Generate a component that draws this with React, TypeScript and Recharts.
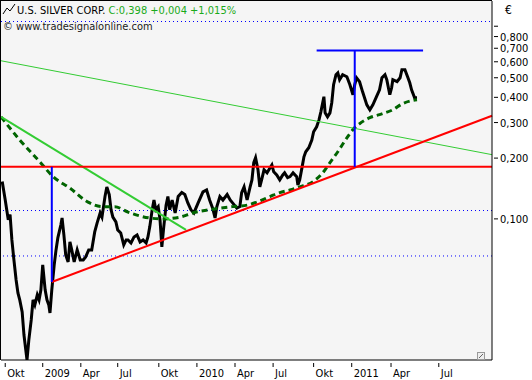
import React from "react"
import { LineChart, Line, XAxis, YAxis, CartesianGrid, ReferenceLine } from "recharts"

const font = "Tahoma, 'DejaVu Sans Condensed', 'Liberation Sans Narrow', sans-serif"

// trading-day index since late Sept 2008 and close in EUR
const days = [
  2, 7, 12, 15, 18, 21, 25, 28, 31, 35, 38, 41, 43, 46, 50, 53, 56, 60, 63, 66, 69, 73, 76, 79, 81, 84, 88, 91, 94, 99,
  101, 104, 107, 111, 114, 117, 121, 126, 131, 136, 140, 145, 150, 155, 159, 164, 167, 172, 175, 179, 182, 185, 190,
  193, 198, 203, 207, 210, 215, 220, 225, 230, 235, 240, 243, 246, 250, 253, 256, 260, 263, 266, 269, 273, 276, 279,
  283, 288, 293, 299, 304, 309, 314, 319, 326, 334, 340, 345, 350, 354, 357, 362, 367, 374, 379, 383, 390, 395, 398,
  402, 407, 412, 415, 418, 421, 425, 428, 431, 435, 440, 445, 448, 451, 456, 461, 466, 469, 474, 478, 483, 489, 491,
  494, 498, 501, 504, 509, 514, 517, 522, 526, 529, 534, 536, 540, 544, 547, 550, 554, 557, 560, 565, 572, 577, 582,
  585, 588, 593, 598, 605, 610, 615, 621, 626, 630, 635, 638, 643, 646, 648, 655, 660, 663, 668, 673, 676, 679, 684,
  688,
]
const close = [
  0.153, 0.124, 0.0989, 0.105, 0.0787, 0.0641, 0.0498, 0.043, 0.0397, 0.0346, 0.0266, 0.0224, 0.02, 0.0251, 0.0316,
  0.0397, 0.0375, 0.042, 0.0397, 0.0445, 0.0592, 0.0445, 0.0397, 0.0375, 0.0342, 0.0445, 0.0592, 0.0702, 0.0805,
  0.0934, 0.101, 0.0833, 0.0663, 0.0612, 0.0769, 0.0702, 0.0612, 0.0702, 0.0626, 0.0626, 0.0648, 0.0702, 0.0702,
  0.0862, 0.0955, 0.107, 0.102, 0.129, 0.144, 0.132, 0.111, 0.102, 0.0966, 0.0882, 0.0852, 0.0743, 0.0787, 0.0787,
  0.076, 0.0814, 0.0833, 0.0769, 0.0787, 0.076, 0.0814, 0.0913, 0.111, 0.124, 0.111, 0.115, 0.0989, 0.0727, 0.0902,
  0.117, 0.129, 0.111, 0.124, 0.107, 0.129, 0.135, 0.132, 0.12, 0.111, 0.107, 0.12, 0.136, 0.139, 0.124, 0.113, 0.101,
  0.115, 0.129, 0.124, 0.132, 0.124, 0.12, 0.113, 0.115, 0.135, 0.144, 0.124, 0.144, 0.156, 0.19, 0.201, 0.175, 0.144,
  0.156, 0.175, 0.169, 0.179, 0.185, 0.171, 0.165, 0.156, 0.165, 0.169, 0.16, 0.162, 0.169, 0.162, 0.147, 0.156, 0.181,
  0.203, 0.215, 0.225, 0.246, 0.27, 0.286, 0.31, 0.339, 0.403, 0.335, 0.32, 0.335, 0.376, 0.462, 0.518, 0.529, 0.489,
  0.518, 0.506, 0.462, 0.412, 0.462, 0.5, 0.478, 0.426, 0.367, 0.347, 0.367, 0.403, 0.436, 0.5, 0.518, 0.489, 0.412,
  0.446, 0.489, 0.478, 0.5, 0.548, 0.548, 0.5, 0.472, 0.436, 0.398, 0.398,
]

// moving average
const maDays = [0, 31, 64, 86, 114, 144, 167, 188, 210, 246, 266, 296, 317, 345, 383, 407, 423, 445, 461, 478, 494, 516, 532, 544, 557, 572, 585, 593, 610, 631, 648, 664, 679, 688]
const maValues = [0.32, 0.246, 0.192, 0.162, 0.142, 0.121, 0.115, 0.115, 0.108, 0.101, 0.1, 0.102, 0.107, 0.111, 0.115, 0.117, 0.121, 0.129, 0.135, 0.139, 0.144, 0.153, 0.169, 0.19, 0.215, 0.252, 0.283, 0.296, 0.317, 0.332, 0.347, 0.372, 0.385, 0.389]

const tickDays = [7, 69, 132, 193, 261, 324, 387, 450, 517, 580, 645, 724]
const tickLabels = ["Okt", "2009", "Apr", "Jul", "Okt", "2010", "Apr", "Jul", "Okt", "2011", "Apr", "Jul"]
const priceTicks = [0.1, 0.2, 0.3, 0.4, 0.5, 0.6, 0.7, 0.8, 0.9]
const gridLevels = [0.11, 0.0655]

// drawn trend lines
const resistance = 0.181
const supportLine = [{ x: 84, y: 0.0487 }, { x: 812, y: 0.324 }]
const longDownTrend = [{ x: 0, y: 0.607 }, { x: 812, y: 0.208 }]
const shortDownTrend = [{ x: 0, y: 0.32 }, { x: 306, y: 0.0882 }]
const targetLeft = [{ x: 84, y: 0.0487 }, { x: 84, y: 0.181 }]
const targetRight = [{ x: 585, y: 0.181 }, { x: 585, y: 0.683 }]
const targetTop = [{ x: 522, y: 0.683 }, { x: 698, y: 0.683 }]

const priceData = days.map((d, i) => ({ d, v: close[i] }))
const maData = maDays.map((d, i) => ({ d, v: maValues[i] }))

const YTick = (props: any) => {
  const { x, y, payload } = props
  const label = payload.value > 0.85 ? "" : payload.value.toFixed(3).replace(".", ",")
  return (
    <g>
      <line x1={x + 2} x2={x + 6} y1={y} y2={y} stroke="#000" />
      <text x={x + 8} y={y} dy={4} fontSize={11} fill="#000" fontFamily={font}>
        {label}
      </text>
    </g>
  )
}

const XTick = (props: any) => {
  const { x, y, payload } = props
  const i = tickDays.indexOf(payload.value)
  return (
    <g>
      <line x1={x} x2={x} y1={y + 3} y2={y + 7} stroke="#000" />
      <text x={x + 2} y={y + 17} fontSize={11} fill="#000" fontFamily={font}>
        {tickLabels[i]}
      </text>
    </g>
  )
}

export default function App() {
  return (
    <div style={{ position: "absolute", left: 0, top: 0, width: 532, height: 380, background: "#fff" }}>
      <LineChart width={532} height={380} margin={{ top: 1, left: 1, right: 0, bottom: 0 }}>
        <CartesianGrid fill="#f5f5f5" horizontal={false} vertical={false} />
        <XAxis
          type="number"
          dataKey="d"
          domain={[0, 812]}
          ticks={tickDays}
          interval={0}
          height={20}
          tickSize={0}
          tickMargin={0}
          tick={<XTick />}
          axisLine={{ stroke: "#000" }}
          allowDataOverflow
        />
        <YAxis
          orientation="right"
          type="number"
          dataKey="v"
          scale="log"
          domain={[0.02, 1.2]}
          ticks={priceTicks}
          interval={0}
          width={40}
          tickSize={0}
          tickMargin={0}
          tick={<YTick />}
          axisLine={{ stroke: "#000" }}
          allowDataOverflow
        />
        {gridLevels.map((g) => (
          <ReferenceLine key={g} y={g} stroke="#0000ff" strokeDasharray="1 3" />
        ))}
        <Line data={priceData} dataKey="v" stroke="#000" strokeWidth={3} dot={false} isAnimationActive={false} />
        <Line
          data={maData}
          dataKey="v"
          stroke="#006400"
          strokeWidth={3}
          strokeDasharray="6 4"
          dot={false}
          type="monotone"
          isAnimationActive={false}
        />
        <ReferenceLine segment={longDownTrend} stroke="#33cc33" strokeWidth={1} />
        <ReferenceLine segment={shortDownTrend} stroke="#33cc33" strokeWidth={2} />
        <ReferenceLine y={resistance} stroke="#ff0000" strokeWidth={2} />
        <ReferenceLine segment={supportLine} stroke="#ff0000" strokeWidth={2} />
        <ReferenceLine segment={targetLeft} stroke="#0000ff" strokeWidth={2} />
        <ReferenceLine segment={targetRight} stroke="#0000ff" strokeWidth={2} />
        <ReferenceLine segment={targetTop} stroke="#0000ff" strokeWidth={2} />
      </LineChart>
      <svg width={532} height={380} style={{ position: "absolute", left: 0, top: 0, pointerEvents: "none" }}>
        <line x1={0.5} x2={0.5} y1={0} y2={360} stroke="#000" />
        <line x1={0} x2={492} y1={0.5} y2={0.5} stroke="#000" />
        <line x1={1} x2={492} y1={21.5} y2={21.5} stroke="#0000ff" strokeDasharray="1 3" />
        <polyline points="3,14 7,8 10,11 15,4" fill="none" stroke="#000" />
        <text x={17} y={14} fontSize={11} fontFamily={font}>
          <tspan fill="#000">U.S. SILVER CORP. </tspan>
          <tspan fill="#1aaa1a">C:0,398 +0,004 +1,015%</tspan>
        </text>
        <text x={3} y={30} fontSize={11} fontFamily={font} fill="#222">
          © www.tradesignalonline.com
        </text>
        <text x={505} y={14} fontSize={12} fontFamily={font} fill="#000">
          €
        </text>
        <rect x={477.5} y={352.5} width={7} height={7} fill="#eee" stroke="#999" />
        <line x1={479} x2={483} y1={358} y2={354} stroke="#666" />
      </svg>
    </div>
  )
}
